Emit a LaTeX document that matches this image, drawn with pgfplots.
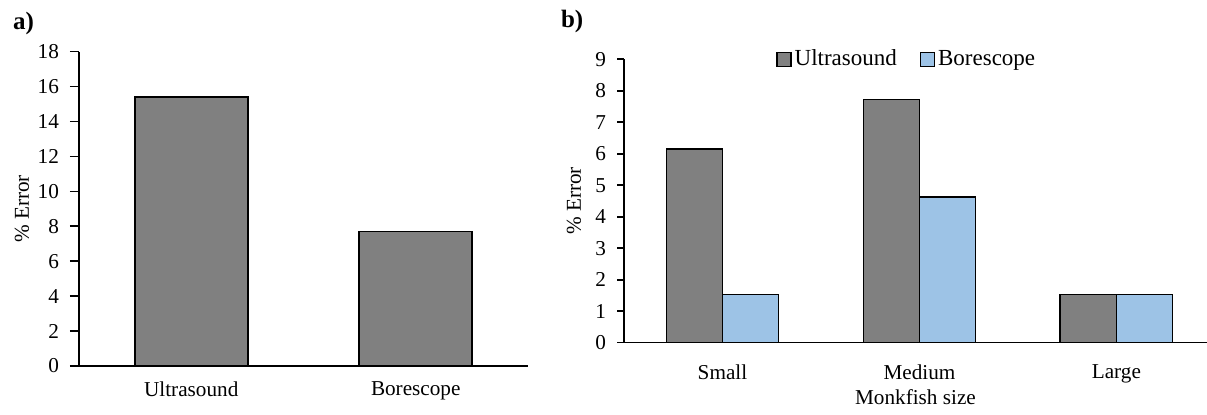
\documentclass[border=0pt]{standalone}
\usepackage{fontspec}
\setmainfont{Liberation Serif}
\usepackage{pgfplots}
\pgfplotsset{compat=1.18}
\definecolor{usgray}{RGB}{128,128,128}
\definecolor{boblue}{RGB}{157,195,230}
\begin{document}
\begin{tikzpicture}
\useasboundingbox (0pt,0pt) rectangle (603.5pt,207.5pt);
\pgfplotsset{
  myax/.style={
    scale only axis,
    font=\fontsize{10.6}{12}\selectfont,
    /pgf/number format/assume math mode=true,
    axis lines=left,
    axis line style={-, black, line width=0.8pt},
    tick align=outside,
    ytick pos=left,
    y tick style={black, line width=0.8pt},
    x tick style={draw=none},
    xtick pos=bottom,
    yticklabel style={xshift=-2pt},
    ymin=0,
    xmin=-0.5,
    clip=false,
  }
}
% panel a
\begin{axis}[myax,
  at={(39.5pt,24.5pt)}, anchor=south west,
  width=224.5pt, height=157.15pt,
  ymax=18, ytick={0,2,...,18},
  xmax=1.5, xtick={0,1}, xticklabels={Ultrasound,Borescope},
  major tick length=4.5pt,
  ybar, bar width=0.503,
  ylabel={\% Error},
  y label style={at={(axis description cs:-0.127,0.5)}, anchor=center},
]
\addplot[fill=usgray, draw=black, line width=0.8pt, bar shift=0] coordinates {(0,15.4) (1,7.7)};
\end{axis}
% panel b
\begin{axis}[myax,
  at={(312pt,36.15pt)}, anchor=south west,
  width=291.5pt, height=141.7pt,
  ymax=9, ytick={0,1,...,9},
  xmax=2.46, xtick={0,1,2}, xticklabels={Small,Medium,Large},
  major tick length=3.5pt,
  ybar=0pt, bar width=0.285,
  ylabel={\% Error},
  y label style={at={(axis description cs:-0.086,0.5)}, anchor=center},
  xlabel={Monkfish size},
  x label style={at={(axis description cs:0.5,0)}, anchor=north, yshift=-20pt},
  xticklabel style={yshift=-4pt},
  legend style={at={(axis description cs:0.486,1)}, anchor=center, draw=none, fill=none,
    legend columns=2, font=\fontsize{11.5}{12}\selectfont,
    /tikz/every even column/.append style={column sep=10pt},
    nodes={inner xsep=1.5pt}},
  legend image code/.code={\draw[#1, line width=0.6pt] (0pt,-3.5pt) rectangle (7pt,3.5pt);},
]
\addplot[fill=usgray, draw=black, line width=0.8pt] coordinates {(0,6.15) (1,7.72) (2,1.53)};
\addplot[fill=boblue, draw=black, line width=0.8pt] coordinates {(0,1.53) (1,4.63) (2,1.53)};
\legend{Ultrasound,Borescope}
\end{axis}
\node[font=\bfseries\fontsize{12.5}{14}\selectfont, anchor=west] at (3pt,195.5pt) {a)};
\node[font=\bfseries\fontsize{12.5}{14}\selectfont, anchor=west] at (277pt,196.5pt) {b)};
\end{tikzpicture}
\end{document}
